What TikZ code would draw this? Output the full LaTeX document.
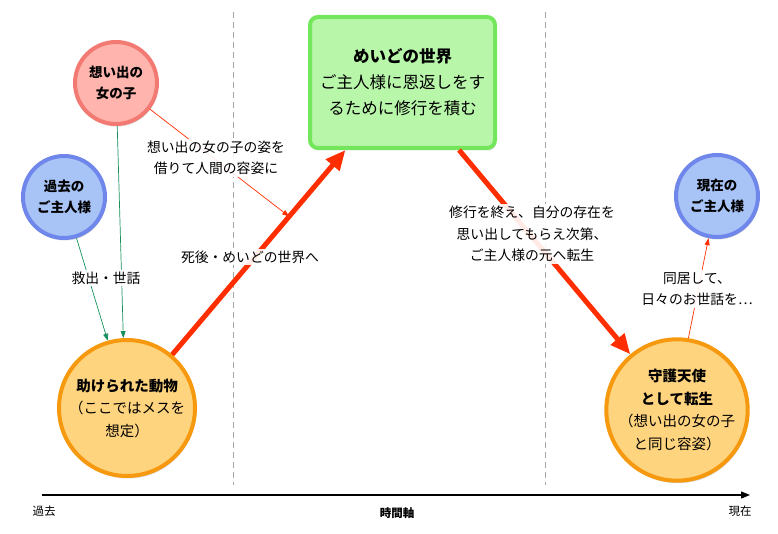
\documentclass[tikz,border=0pt]{standalone}
\usepackage{fontspec}
\setmainfont{Noto Sans CJK JP}
\usetikzlibrary{arrows.meta,shadows}
\definecolor{pinkfill}{HTML}{FFB5AD}
\definecolor{pinkline}{HTML}{F27A73}
\definecolor{bluefill}{HTML}{A8C3F6}
\definecolor{blueline}{HTML}{6F86EA}
\definecolor{orangefill}{HTML}{FFD47E}
\definecolor{orangeline}{HTML}{F7990F}
\definecolor{greenfill}{HTML}{B8F6AA}
\definecolor{greenline}{HTML}{74E65C}
\definecolor{arrowred}{HTML}{FF2E00}
\definecolor{arrowgreen}{HTML}{16905C}
\begin{document}
\begin{tikzpicture}[x=1pt,y=-1pt,
  ball/.style={circle,inner sep=0pt,align=center,line width=4pt,
    drop shadow={shadow xshift=1pt,shadow yshift=-2.5pt,opacity=0.3}},
  smallball/.style={ball,minimum size=82pt,font=\fontsize{13.5}{21}\selectfont\bfseries},
  bigball/.style={ball,minimum size=136pt,font=\fontsize{14.5}{22.5}\selectfont},
  caption/.style={fill=white,fill opacity=0.9,text opacity=1,align=center,inner sep=2pt,
    font=\fontsize{13.8}{21.5}\selectfont},
  axislabel/.style={font=\fontsize{11.5}{14}\selectfont},
  dashline/.style={gray!70,line width=0.8pt,dash pattern=on 6pt off 4pt},
  bigarrow/.style={arrowred,line width=5pt,-{Triangle[length=20pt,width=17pt]}},
  thinarrow/.style={line width=0.7pt,-{Triangle[length=7pt,width=5pt]}}]
  \useasboundingbox (0,0) rectangle (778,534);
  % era separators
  \draw[dashline] (233,12) -- (233,485);
  \draw[dashline] (545,12) -- (545,485);
  % time axis
  \coordinate (start) at (42,495);
  \coordinate (end) at (750,495);
  \draw[line width=1.2pt,-{Triangle[length=9pt,width=7pt]}] (start) -- (end);
  \node[axislabel] (pastlabel) at (44,511) {過去};
  \node[axislabel,font=\fontsize{11.5}{14}\selectfont\bfseries] (timelabel) at (397,513) {時間軸};
  \node[axislabel] (nowlabel) at (740,511) {現在};
  % people and places
  \node[smallball,draw=pinkline,fill=pinkfill] (girl) at (116,83) {想い出の\\女の子};
  \node[smallball,draw=blueline,fill=bluefill] (pastmaster) at (64,197) {過去の\\ご主人様};
  \node[smallball,draw=blueline,fill=bluefill] (nowmaster) at (717,196) {現在の\\ご主人様};
  \node[bigball,draw=orangeline,fill=orangefill] (animal) at (127,408)
    {\textbf{助けられた動物}\\（ここではメスを\\想定）};
  \node[bigball,draw=orangeline,fill=orangefill] (angel) at (677,410)
    {\textbf{守護天使}\\\textbf{として転生}\\（想い出の女の子\\と同じ容姿）};
  \node[rectangle,rounded corners=8pt,line width=4pt,draw=greenline,fill=greenfill,
    minimum width=185pt,minimum height=131pt,align=center,
    font=\fontsize{16.5}{26}\selectfont,
    drop shadow={shadow xshift=1pt,shadow yshift=-2.5pt,opacity=0.3}] (world) at (402.5,82.5)
    {\textbf{めいどの世界}\\ご主人様に恩返しをす\\るために修行を積む};
  % connectors
  \draw[bigarrow] (animal) -- coordinate[pos=0.675] (meet) (world);
  \draw[bigarrow] (world) -- (angel);
  \draw[thinarrow,arrowred] (girl) -- (meet);
  \draw[thinarrow,arrowgreen] (pastmaster) -- (animal.106);
  \draw[thinarrow,arrowgreen] (girl) -- (animal.93);
  \draw[thinarrow,arrowred] (angel.81) -- (nowmaster);
  % captions
  \node[caption] (borrow) at (216,158) {想い出の女の子の姿を\\借りて人間の容姿に};
  \node[caption] (rescue) at (106,278) {救出・世話};
  \node[caption] (death) at (250,257) {死後・めいどの世界へ};
  \node[caption] (reborn) at (532,234) {修行を終え、自分の存在を\\思い出してもらえ次第、\\ご主人様の元へ転生};
  \node[caption] (livewith) at (697,289) {同居して、\\日々のお世話を⋯};
\end{tikzpicture}
\end{document}
